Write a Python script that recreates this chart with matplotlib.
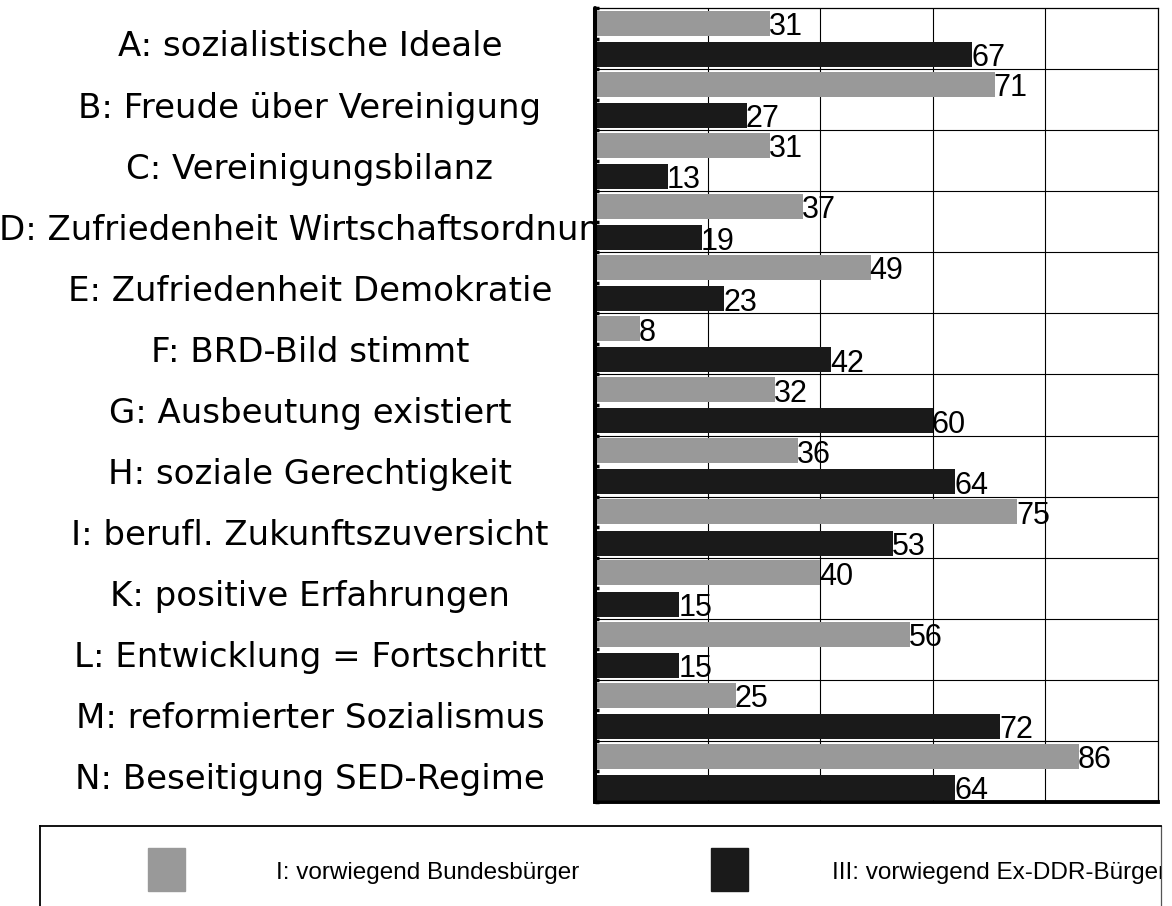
import numpy as np
import matplotlib
matplotlib.use("Agg")
import matplotlib.pyplot as plt
from matplotlib import transforms
from matplotlib.patches import Rectangle

plt.rcParams['font.family'] = ['Liberation Sans', 'DejaVu Sans']

# data
categories = [
    "A: sozialistische Ideale",
    "B: Freude über Vereinigung",
    "C: Vereinigungsbilanz",
    "D: Zufriedenheit Wirtschaftsordnung",
    "E: Zufriedenheit Demokratie",
    "F: BRD-Bild stimmt",
    "G: Ausbeutung existiert",
    "H: soziale Gerechtigkeit",
    "I: berufl. Zukunftszuversicht",
    "K: positive Erfahrungen",
    "L: Entwicklung = Fortschritt",
    "M: reformierter Sozialismus",
    "N: Beseitigung SED-Regime",
]
bundes = [31, 71, 31, 37, 49, 8, 32, 36, 75, 40, 56, 25, 86]
exddr = [67, 27, 13, 19, 23, 42, 60, 64, 53, 15, 15, 72, 64]
series_names = ["I: vorwiegend Bundesbürger", "III: vorwiegend Ex-DDR-Bürger"]
series_colors = ["#999999", "#1a1a1a"]

W, H = 1172, 906
fig = plt.figure(figsize=(W / 100, H / 100), dpi=100)
fig.patch.set_facecolor("white")

ax = fig.add_axes([595 / W, 1 - 802 / H, 563 / W, 794 / H])
ax.set_facecolor("white")

y = np.arange(len(categories))
h = 0.41
ax.barh(y - 0.25, bundes, height=h, color=series_colors[0], zorder=2)
ax.barh(y + 0.26, exddr, height=h, color=series_colors[1], zorder=2)

for i in range(len(categories)):
    ax.text(bundes[i] - 0.2, y[i] - 0.25 + h / 2 - 0.01, str(bundes[i]), fontsize=22,
            ha='left', va='baseline', zorder=3)
    ax.text(exddr[i] - 0.2, y[i] + 0.26 + h / 2 - 0.01, str(exddr[i]), fontsize=22,
            ha='left', va='baseline', zorder=3)

ax.set_xlim(0, 100)
ax.set_ylim(len(categories) - 0.5, -0.5)

# grid
for gx in [20, 40, 60, 80]:
    ax.axvline(gx, color='black', lw=0.8, zorder=1)
for gy in np.arange(0.5, len(categories) - 0.5, 1):
    ax.axhline(gy, color='black', lw=0.8, zorder=1)

ax.set_xticks([])
ax.set_yticks(np.arange(-0.5, len(categories), 0.5))
ax.set_yticklabels([])
ax.tick_params(axis='y', direction='in', length=3, width=2.5, color='black')

ax.spines['left'].set_linewidth(2.9)
ax.spines['left'].set_capstyle('round')
ax.spines['bottom'].set_linewidth(2.8)
ax.spines['top'].set_linewidth(0.9)
ax.spines['right'].set_linewidth(0.9)
for s in ax.spines.values():
    s.set_zorder(4)

# category labels, drawn under the axes so the plot area hides overflow
trans = transforms.blended_transform_factory(fig.transFigure, ax.transData)
for i, lab in enumerate(categories):
    fig.text(310 / W, y[i] + 0.08, lab, transform=trans, fontsize=24.5,
             family='DejaVu Sans', ha='center', va='center_baseline', zorder=-1)

# legend box
lax = fig.add_axes([40 / W, -0.1, 1121 / W, 0.1 + (1 - 826 / H)])
lax.set_xlim(40, 1161)
lax.set_ylim(906 + 0.1 * H, 826)
lax.set_xticks([])
lax.set_yticks([])
lax.spines['bottom'].set_visible(False)
lax.spines['left'].set_linewidth(1.3)
lax.spines['top'].set_linewidth(1.3)
lax.spines['right'].set_linewidth(0.9)
lax.spines['right'].set_color('#555555')

patch_x = [148, 711]
text_x = [276, 832]
for k in range(2):
    lax.add_patch(Rectangle((patch_x[k], 848), 37, 43, color=series_colors[k]))
    lax.text(text_x[k], 871, series_names[k], fontsize=17.5, ha='left',
             va='center_baseline', clip_on=True)

fig.savefig("out.png", dpi=100)
